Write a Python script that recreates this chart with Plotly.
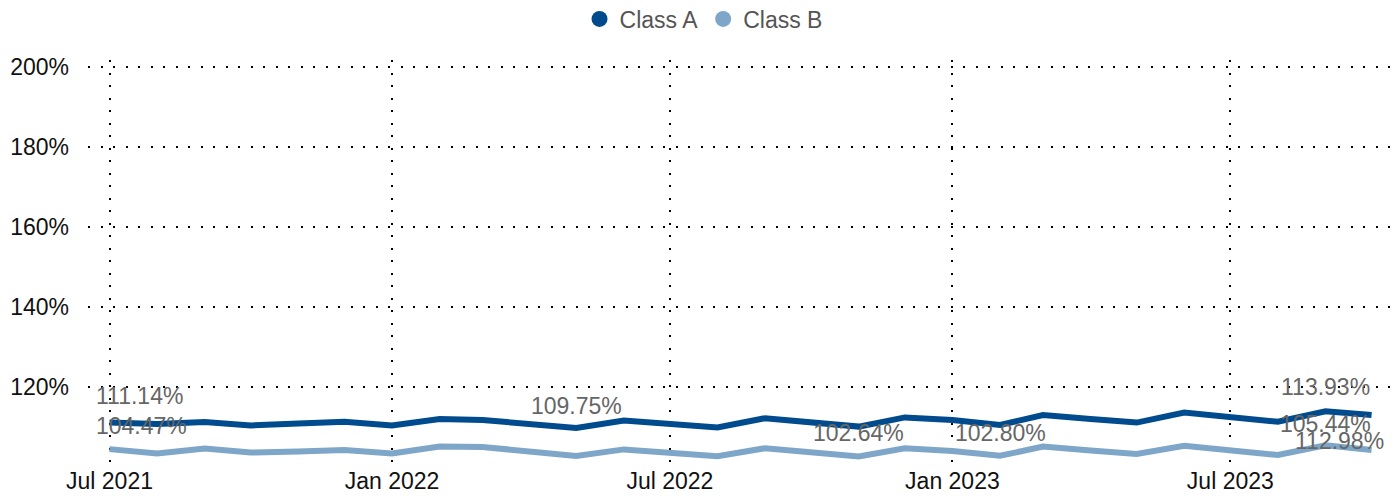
import pandas as pd
import plotly.graph_objects as go

# ---- data ----
dates = pd.date_range("2021-07-01", periods=28, freq="MS")
class_a = [111.14, 110.75, 111.25, 110.4, 110.9, 111.3, 110.4, 112.0, 111.75, 110.75,
           109.75, 111.6, 110.8, 109.9, 112.2, 111.1, 110.1, 112.4, 111.75, 110.5,
           113.0, 112.0, 111.1, 113.6, 112.45, 111.3, 113.93, 112.98]
class_b = [104.47, 103.4, 104.6, 103.6, 103.9, 104.25, 103.4, 105.1, 105.0, 103.9,
           102.75, 104.4, 103.6, 102.7, 104.7, 103.6, 102.64, 104.7, 104.0, 102.8,
           105.1, 104.1, 103.25, 105.3, 104.25, 103.0, 105.44, 104.25]
series_names = ["Class A", "Class B"]
colors = ["#004b8d", "#7ea6c9"]
y_ticks = [120, 140, 160, 180, 200]

# labelled points: (series index, point index, xshift, yshift)
labelled = [(0, 0, 30, 26), (1, 0, 32, 23), (0, 10, 0, 22), (1, 16, 0, 23),
            (1, 19, 0, 23), (0, 26, 0, 24), (1, 26, 0, 21), (0, 27, -32, -26)]

FONT = "Arial, 'Liberation Sans', sans-serif"
fig = go.Figure()
for name, vals, col in zip(series_names, [class_a, class_b], colors):
    fig.add_trace(go.Scatter(x=dates, y=vals, mode="lines", name=name,
                             line=dict(color=col, width=6), showlegend=False,
                             hoverinfo="x+y"))
    fig.add_trace(go.Scatter(x=[None], y=[None], mode="markers", name=name,
                             marker=dict(color=col, size=20, symbol="circle")))

series = [class_a, class_b]
for si, pi, xs, ys in labelled:
    v = series[si][pi]
    fig.add_annotation(x=dates[pi], y=v, text=f"{v:.2f}%", showarrow=False,
                       xshift=xs, yshift=ys, xanchor="center", yanchor="middle",
                       font=dict(family=FONT, size=23, color="#666666"))

fig.update_layout(
    width=1397, height=500,
    margin=dict(l=88, r=7, t=60, b=35, autoexpand=False),
    paper_bgcolor="white", plot_bgcolor="white",
    font=dict(family=FONT, size=23, color="#222222"),
    legend=dict(orientation="h", xref="container", x=0.5036, xanchor="center",
                yref="container", y=0.962, yanchor="middle",
                font=dict(family=FONT, size=23, color="#555555"),
                itemwidth=30, tracegroupgap=0),
    xaxis=dict(range=["2021-06-17", "2023-10-13"], tick0="2021-07-01", dtick="M6",
               tickformat="%b %Y", showgrid=True, gridcolor="black", gridwidth=2,
               griddash="2px,10.5px", showline=False, zeroline=False, ticks="",
               automargin=False, tickfont=dict(size=23, color="#111111")),
    yaxis=dict(range=[100.5, 201.75], tickvals=y_ticks,
               ticktext=[f"{t}%" for t in y_ticks], showgrid=True, gridcolor="black",
               gridwidth=2, griddash="2px,10.5px", showline=False, zeroline=False,
               ticks="", ticklabelstandoff=18, automargin=False,
               tickfont=dict(size=23, color="#111111")),
)
fig.write_html("out.html", config={"displayModeBar": False},
               post_script="document.body.style.margin='0';document.body.style.overflow='hidden';")
